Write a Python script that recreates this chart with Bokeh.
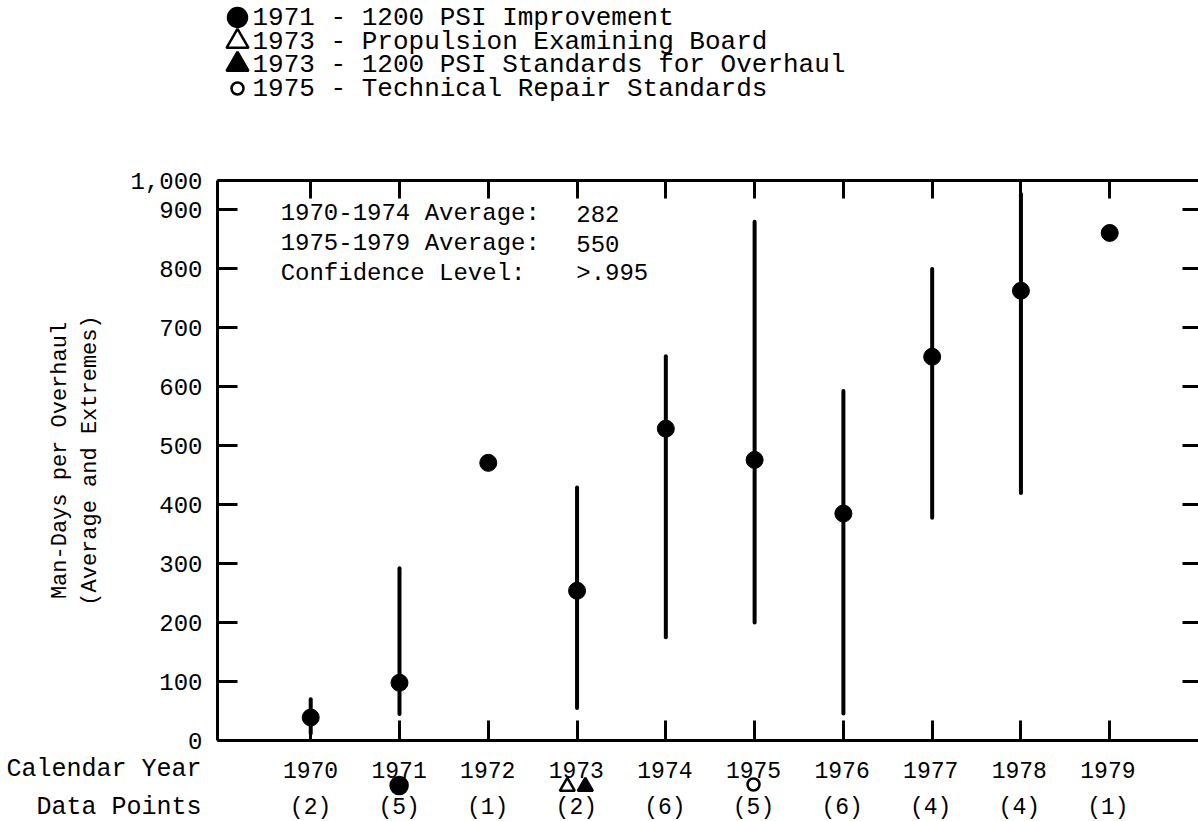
from bokeh.plotting import figure
from bokeh.layouts import column
from bokeh.models import (ColumnDataSource, FixedTicker, LinearAxis, Label, Range1d)
from bokeh.core.properties import value
from bokeh.embed import file_html
from bokeh.resources import INLINE

# ---------------- data ----------------
years = [1970, 1971, 1972, 1973, 1974, 1975, 1976, 1977, 1978, 1979]
avg_days = [39, 98, 471, 254, 529, 476, 385, 651, 763, 861]
min_days = [12, 45, None, 55, 175, 200, 46, 378, 420, None]
max_days = [70, 292, None, 429, 652, 880, 593, 800, 927, None]
data_points = [2, 5, 1, 2, 6, 5, 6, 4, 4, 1]

y_ticks = [0, 100, 200, 300, 400, 500, 600, 700, 800, 900]
y_top = 950
y_top_label = "1,000"

event_years = [1971, 1973, 1973, 1975]
event_markers = ["circle", "triangle", "triangle", "circle"]
event_fills = ["black", "white", "black", "white"]
event_texts = ["1971 - 1200 PSI Improvement",
               "1973 - Propulsion Examining Board",
               "1973 - 1200 PSI Standards for Overhaul",
               "1975 - Technical Repair Standards"]

summary_labels = ["1970-1974 Average:", "1975-1979 Average:", "Confidence Level:"]
summary_values = ["282", "550", ">.995"]

# ---------------- layout constants ----------------
W, H = 1198, 821
FL, FT, FB, FR = 217, 180, 740, 1196
X0, X1 = 1968.95, 1980.0
TOP_H = 150
MAIN_BORDER_BOTTOM = 15
MAIN_H = (FT - TOP_H) + (FB - FT) + MAIN_BORDER_BOTTOM
BOT_Y0 = TOP_H + MAIN_H
BOT_H = H - BOT_Y0
FONT = "Liberation Mono"


def px_x(px):
    return X0 + (px - FL) * (X1 - X0) / (FR - FL)


def px_y(py):
    return (FB - py) * y_top / (FB - FT)


def bare(fig):
    fig.outline_line_color = None
    fig.background_fill_color = "white"
    fig.border_fill_color = "white"
    fig.min_border = 0
    fig.frame_align = False
    return fig


# ---------------- legend strip (top) ----------------
top_fig = bare(figure(width=W, height=TOP_H, x_range=Range1d(0, W),
                      y_range=Range1d(TOP_H, 0), x_axis_type=None, y_axis_type=None,
                      output_backend="svg", toolbar_location=None))
leg_rows = [17, 41, 64, 88]
leg_sizes = [19, 22, 22, 12]
leg_src = ColumnDataSource(dict(x=[237] * 4, y=leg_rows, m=event_markers,
                                f=event_fills, s=leg_sizes, t=event_texts,
                                tx=[252] * 4))
top_fig.scatter(x="x", y="y", marker="m", size="s", fill_color="f",
                line_color="black", line_width=2.5, source=leg_src)
top_fig.text(x="tx", y="y", text="t", source=leg_src, text_font=value(FONT),
             text_font_size="26px", text_baseline="middle", text_color="black")

# ---------------- main plot ----------------
p = figure(width=W, height=MAIN_H, x_range=Range1d(X0, X1), y_range=Range1d(0, y_top),
           x_axis_type=None, y_axis_type=None,
           output_backend="svg", toolbar_location=None,
           min_border_left=FL, min_border_right=0, min_border_top=FT - TOP_H,
           min_border_bottom=MAIN_BORDER_BOTTOM)
p.outline_line_color = None
p.background_fill_color = "white"
p.border_fill_color = "white"
p.frame_align = False


def style_axis(ax, tick_len, ticks, show_labels):
    ax.ticker = FixedTicker(ticks=ticks)
    ax.axis_line_width = 3
    ax.axis_line_color = "black"
    ax.major_tick_line_width = 3
    ax.major_tick_line_color = "black"
    ax.major_tick_in = tick_len
    ax.major_tick_out = 0
    ax.minor_tick_line_color = None
    ax.major_label_text_font = FONT
    ax.major_label_text_color = "black"
    if not show_labels:
        ax.major_label_overrides = {t: "" for t in ticks}
        ax.major_label_text_font_size = "1px"
        ax.major_label_standoff = 0


left = LinearAxis()
style_axis(left, 20, y_ticks + [y_top], True)
left.major_label_overrides = {y_top: y_top_label}
left.major_label_text_font_size = "24px"
left.major_label_standoff = 15
left.axis_label = "Man-Days per Overhaul\n(Average and Extremes)"
left.axis_label_text_font = FONT
left.axis_label_text_font_size = "22px"
left.axis_label_text_font_style = "normal"
left.axis_label_text_color = "black"
left.axis_label_standoff = 24
p.add_layout(left, "left")

bottom = LinearAxis()
style_axis(bottom, 20, years, False)
p.add_layout(bottom, "below")

top = LinearAxis()
style_axis(top, 18, years, False)
p.add_layout(top, "above")

right = LinearAxis()
style_axis(right, 16, y_ticks[1:], False)
right.axis_line_color = None
p.add_layout(right, "right")

# whiskers (extremes) and averages
wx = [y for y, lo in zip(years, min_days) if lo is not None]
wlo = [lo for lo in min_days if lo is not None]
whi = [hi for hi in max_days if hi is not None]
p.segment(x0=wx, y0=wlo, x1=wx, y1=whi, line_width=4, line_color="black",
          line_cap="round")
p.scatter(years, avg_days, size=17, fill_color="black", line_color="black")

# summary text inside the plot
for i, (lab, val) in enumerate(zip(summary_labels, summary_values)):
    yy = px_y(213 + 30 * i)
    p.add_layout(Label(x=px_x(280), y=yy, text=lab, text_font=FONT,
                       text_font_size="24px", text_baseline="middle",
                       text_color="black"))
    p.add_layout(Label(x=px_x(575), y=yy, text=val, text_font=FONT,
                       text_font_size="24px", text_baseline="middle",
                       text_color="black"))

# ---------------- strip below the axis ----------------
bot = bare(figure(width=W, height=BOT_H, x_range=Range1d(px_x(0), px_x(W)),
                  y_range=Range1d(H, BOT_Y0), x_axis_type=None, y_axis_type=None,
                  output_backend="svg", toolbar_location=None))
yr_src = ColumnDataSource(dict(x=years, t=[str(y) for y in years],
                               c=["(%d)" % n for n in data_points],
                               y1=[769] * len(years), y2=[807] * len(years)))
bot.text(x="x", y="y1", text="t", source=yr_src, text_font=value(FONT),
         text_font_size="23px", text_align="center", text_baseline="middle",
         text_color="black")
bot.text(x="x", y="y2", text="c", source=yr_src, text_font=value(FONT),
         text_font_size="23px", text_align="center", text_baseline="middle",
         text_color="black")
row_titles = ColumnDataSource(dict(x=[px_x(201)] * 2, y=[769, 807],
                                   t=["Calendar Year", "Data Points"]))
bot.text(x="x", y="y", text="t", source=row_titles, text_font=value(FONT),
         text_font_size="25px", text_align="right", text_baseline="middle",
         text_color="black")

px_per_year = (FR - FL) / (X1 - X0)
ev_shift = [0, -9 / px_per_year, 9 / px_per_year, 0]
ev_src = ColumnDataSource(dict(x=[e + s for e, s in zip(event_years, ev_shift)],
                               y=[785, 786, 786, 784], m=event_markers,
                               f=event_fills, s=[17, 15, 15, 12]))
bot.scatter(x="x", y="y", marker="m", size="s", fill_color="f",
            line_color="black", line_width=2.5, source=ev_src)

layout = column(top_fig, p, bot, spacing=0)
open("out.html", "w").write(file_html(layout, INLINE))
